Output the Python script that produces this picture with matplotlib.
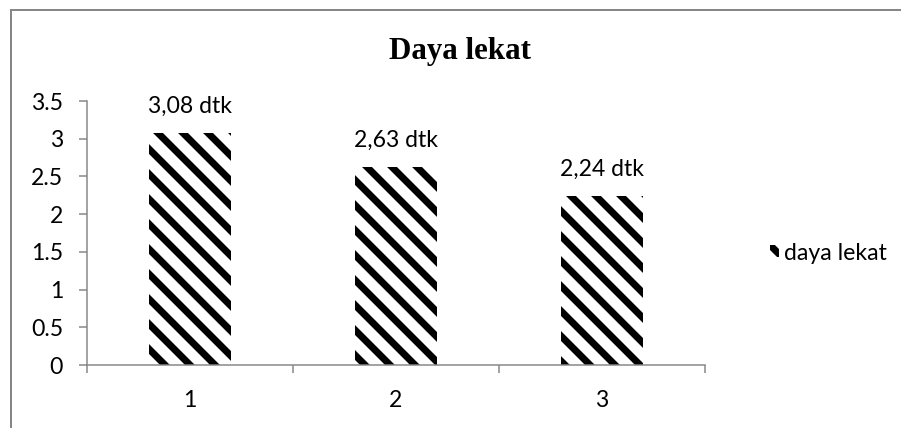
import matplotlib
matplotlib.use("Agg")
import matplotlib.pyplot as plt
from matplotlib.patches import Rectangle

# =====================================================
# DATA
# =====================================================
categories = [1, 2, 3]
values = [3.08, 2.63, 2.24]
value_labels = ["3,08 dtk", "2,63 dtk", "2,24 dtk"]
yticks = [0, 0.5, 1, 1.5, 2, 2.5, 3, 3.5]
ytick_labels = ["0", "0.5", "1", "1.5", "2", "2.5", "3", "3.5"]
title = "Daya lekat"
series_name = "daya lekat"

# =====================================================
# LAYOUT (dpi 150 so the hatch tile gives wide stripes)
# =====================================================
DPI = 150
W, H = 901, 428


def pt(px):
    # pixels -> points at this dpi
    return px * 72.0 / DPI


GRAY = "#868686"
FS = pt(23)
plt.rcParams["hatch.linewidth"] = pt(7.0)
plt.rcParams["hatch.color"] = "black"
plt.rcParams["font.family"] = ["Lato", "DejaVu Sans"]

fig = plt.figure(figsize=(W / DPI, H / DPI), dpi=DPI)
ax = fig.add_axes([87 / W, 63 / H, 618 / W, 264 / H])

# edgecolor black gives the hatch colour, linewidth 0 hides the outline
bars = ax.bar(categories, values, width=0.4, color="white", edgecolor="black",
              hatch="\\\\", linewidth=0, label=series_name)

for x, v, lab in zip(categories, values, value_labels):
    ax.annotate(lab, (x, v), xytext=(0, pt(20)), textcoords="offset points",
                ha="center", va="baseline", fontsize=FS, color="black")

ax.set_xlim(0.5, 3.5)
ax.set_ylim(0, 3.5)
ax.set_yticks(yticks)
ax.set_yticklabels(ytick_labels)
ax.set_xticks(categories)
ax.set_xticks([0.5, 1.5, 2.5, 3.5], minor=True)

ax.tick_params(axis="y", direction="out", length=pt(8), width=pt(1.5), color=GRAY,
               pad=pt(16), labelsize=FS)
ax.tick_params(axis="x", which="major", length=0, pad=pt(25), labelsize=FS)
ax.tick_params(axis="x", which="minor", direction="out", length=pt(8), width=pt(1.5),
               color=GRAY)

for side in ["top", "right"]:
    ax.spines[side].set_visible(False)
for side in ["left", "bottom"]:
    ax.spines[side].set_color(GRAY)
    ax.spines[side].set_linewidth(pt(1.5))

fig.text(460 / W, 1 - 52 / H, title, ha="center", va="center",
         fontsize=pt(31), fontweight="bold", family="Liberation Serif")

leg = fig.legend(handles=[bars], labels=[series_name], loc="center left",
                 bbox_to_anchor=(770 / W, 1 - 253 / H), frameon=False,
                 fontsize=FS, handlelength=0.4, handleheight=0.4,
                 handletextpad=0.2, borderpad=0, borderaxespad=0)

# chart border (only top and left are visible in the crop)
fig.patches.append(Rectangle((10.5 / W, -0.1), 1.2, (H - 9.5) / H + 0.1,
                             transform=fig.transFigure, fill=False,
                             edgecolor=GRAY, linewidth=pt(2)))

fig.savefig("out.png", dpi=DPI)
